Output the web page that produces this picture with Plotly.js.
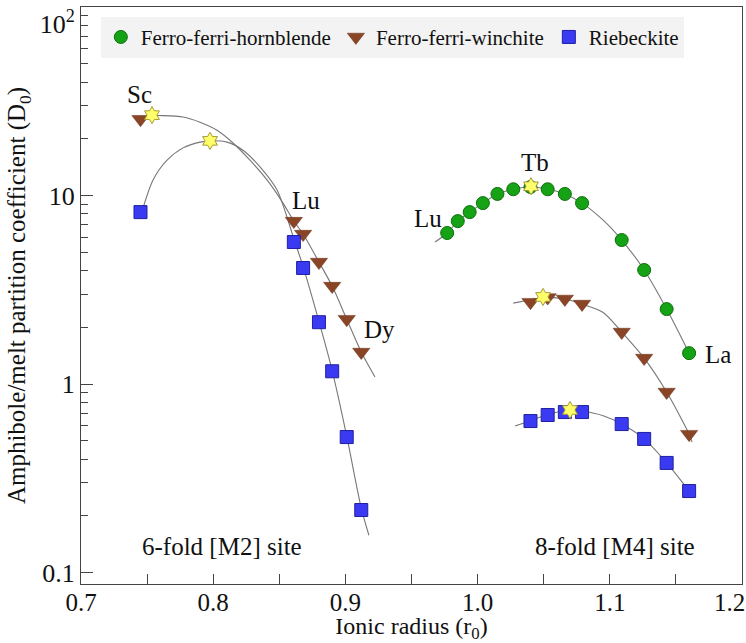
<!DOCTYPE html>
<html>
<head>
<meta charset="utf-8">
<script src="https://cdn.plot.ly/plotly-3.0.1.min.js"></script>
<style>html,body{margin:0;padding:0;background:#fff;}#chart{width:746px;height:643px;}</style>
</head>
<body>
<div id="chart"></div>
<script>
// ---- data ----
const mineralNames = ['Ferro-ferri-hornblende', 'Ferro-ferri-winchite', 'Riebeckite'];

// 8-fold [M4] site, hornblende (Lu ... La)
const hbM4R = [0.977, 0.985, 0.994, 1.004, 1.015, 1.027, 1.040, 1.053, 1.066, 1.079, 1.109, 1.126, 1.143, 1.160];
const hbM4D = [6.33, 7.32, 8.17, 9.12, 10.2, 10.8, 11.1, 10.8, 10.2, 9.12, 5.81, 4.03, 2.50, 1.46];

// winchite
const wiM2R = [0.745, 0.861, 0.868, 0.880, 0.890, 0.901, 0.912];
const wiM2D = [25.4, 7.32, 6.25, 4.44, 3.31, 2.21, 1.48];
const wiM4R = [1.040, 1.053, 1.066, 1.079, 1.109, 1.126, 1.143, 1.160];
const wiM4D = [2.72, 2.88, 2.83, 2.66, 1.89, 1.375, 0.908, 0.543];

// riebeckite
const riM2R = [0.745, 0.861, 0.868, 0.880, 0.890, 0.901, 0.912];
const riM2D = [8.17, 5.67, 4.13, 2.13, 1.17, 0.524, 0.215];
const riM4R = [1.040, 1.053, 1.066, 1.079, 1.109, 1.126, 1.143, 1.160];
const riM4D = [0.637, 0.686, 0.711, 0.711, 0.614, 0.512, 0.382, 0.271];

// fitted r0 / D0 (stars)
const starR = [0.7537, 0.7976, 1.0404, 1.0495, 1.0699];
const starD = [26.7, 19.5, 11.2, 2.90, 0.729];

// lattice-strain fit curves
const cWiM2R = [0.7537, 0.7582, 0.7772, 0.7900, 0.8029, 0.8150, 0.8278, 0.8407, 0.8528, 0.861, 0.868, 0.880, 0.890, 0.901, 0.912, 0.9224];
const cWiM2D = [26.7, 26.6, 26.1, 24.5, 22.2, 19.0, 15.4, 12.1, 9.12, 7.32, 6.25, 4.44, 3.31, 2.21, 1.48, 1.09];
const cRiM2R = [0.7465, 0.7545, 0.7651, 0.7772, 0.7900, 0.7976, 0.8104, 0.8225, 0.8354, 0.8483, 0.861, 0.868, 0.880, 0.890, 0.901, 0.912, 0.9178];
const cRiM2D = [8.4, 12.1, 15.4, 17.9, 19.2, 19.5, 19.2, 17.4, 14.2, 10.7, 5.9, 4.2, 2.15, 1.18, 0.53, 0.22, 0.158];
const cHbM4R = [0.9678, 0.977, 0.985, 0.994, 1.004, 1.015, 1.027, 1.040, 1.053, 1.066, 1.079, 1.095, 1.109, 1.126, 1.143, 1.160];
const cHbM4D = [5.67, 6.33, 7.32, 8.17, 9.12, 10.2, 10.8, 11.1, 10.8, 10.2, 9.12, 7.4, 5.81, 4.03, 2.50, 1.46];
const cWiM4R = [1.027, 1.040, 1.050, 1.066, 1.079, 1.095, 1.109, 1.126, 1.143, 1.160, 1.1622];
const cWiM4D = [2.69, 2.80, 2.88, 2.83, 2.66, 2.40, 1.89, 1.375, 0.908, 0.543, 0.493];
const cRiM4R = [1.0283, 1.040, 1.053, 1.070, 1.079, 1.095, 1.109, 1.126, 1.143, 1.160];
const cRiM4D = [0.599, 0.64, 0.69, 0.729, 0.72, 0.68, 0.614, 0.512, 0.382, 0.271];

// labels
const elemLabels = ['Sc', 'Lu', 'Dy', 'Lu', 'Tb', 'La'];
const elemLabelR = [0.7446, 0.870, 0.926, 0.9625, 1.0434, 1.1818];
const elemLabelD = [34.5, 9.46, 1.94, 7.60, 14.9, 1.43];
const siteLabels = ['6-fold [M2] site', '8-fold [M4] site'];
const siteLabelR = [0.8067, 1.104];
const siteLabelD = [0.137, 0.137];

const xTickVals = [0.7, 0.8, 0.9, 1.0, 1.1, 1.2];
const xTickText = ['0.7', '0.8', '0.9', '1.0', '1.1', '1.2&nbsp;&nbsp;&nbsp;&nbsp;'];
const yTickVals = [0.1, 1, 10, 100];
const yTickText = ['0.1', '1', '10', '&nbsp;<br>10<sup>2</sup>'];

// ---- drawing ----
const FONT = '"Liberation Serif", "Times New Roman", serif';
const curveStyle = {color: '#777', width: 1.1, shape: 'spline', smoothing: 0.8};
const colGreen = '#15a315', colBrown = '#8a4526', colBlue = '#3a3af2';

function curve(x, y) {
  return {x: x, y: y, type: 'scatter', mode: 'lines', line: curveStyle, showlegend: false, hoverinfo: 'skip'};
}
const gap = (a, b) => a.concat([null], b);

const traces = [
  curve(cWiM2R, cWiM2D), curve(cRiM2R, cRiM2D),
  curve(cHbM4R, cHbM4D), curve(cWiM4R, cWiM4D), curve(cRiM4R, cRiM4D),
  {x: hbM4R, y: hbM4D, type: 'scatter', mode: 'markers', name: mineralNames[0],
   marker: {symbol: 'circle', size: 13, color: colGreen, line: {color: '#0c6e0c', width: 1}}},
  {x: gap(wiM2R, wiM4R), y: gap(wiM2D, wiM4D), type: 'scatter', mode: 'markers', name: mineralNames[1],
   marker: {symbol: 'triangle-down', size: 15, color: colBrown, line: {color: '#6a3118', width: 0.5}}},
  {x: gap(riM2R, riM4R), y: gap(riM2D, riM4D), type: 'scatter', mode: 'markers', name: mineralNames[2],
   marker: {symbol: 'square', size: 13, color: colBlue, line: {color: '#2020a0', width: 1}}},
  {x: starR, y: starD, type: 'scatter', mode: 'markers', showlegend: false,
   marker: {symbol: 'hexagram', size: 13, color: '#ffff6a', line: {color: '#a89a3a', width: 1}}}
];

const annotations = [];
elemLabels.forEach((t, i) => annotations.push({x: elemLabelR[i], y: Math.log10(elemLabelD[i]), xref: 'x', yref: 'y',
  text: t, showarrow: false, font: {family: FONT, size: 25, color: '#111'}}));
siteLabels.forEach((t, i) => annotations.push({x: siteLabelR[i], y: Math.log10(siteLabelD[i]), xref: 'x', yref: 'y',
  text: t, showarrow: false, font: {family: FONT, size: 25, color: '#111'}}));

const yMinor = [];
[0.1, 1, 10].forEach(b => { for (let k = 2; k <= 9; k++) yMinor.push(+(b * k).toPrecision(3)); });

const layout = {
  width: 746, height: 643,
  margin: {l: 81, r: 4, t: 7, b: 59, pad: 0},
  paper_bgcolor: '#fff', plot_bgcolor: '#fff',
  font: {family: FONT, size: 25, color: '#111'},
  showlegend: true,
  legend: {orientation: 'h', x: 0.03, y: 0.983, xanchor: 'left', yanchor: 'top',
    bgcolor: '#f3f3f3', borderwidth: 0, font: {family: FONT, size: 21, color: '#111'},
    itemwidth: 30, tracegroupgap: 0},
  xaxis: {
    range: [0.7, 1.2], tickmode: 'array', tickvals: xTickVals, ticktext: xTickText,
    ticks: 'inside', ticklen: 10, tickcolor: '#444', tickwidth: 1,
    showline: true, linecolor: '#444', linewidth: 1, mirror: true,
    showgrid: false, zeroline: false, ticklabeloverflow: 'allow', ticklabelstandoff: -4,
    tickfont: {family: FONT, size: 25, color: '#111'},
    minor: {ticks: 'inside', ticklen: 10, tickcolor: '#444', dtick: 0.05, tick0: 0.75, showgrid: false},
    title: {text: 'Ionic radius (r<sub>0</sub>)', font: {family: FONT, size: 24, color: '#111'}, standoff: 5}
  },
  yaxis: {
    type: 'log', range: [-1.06, 2.0], tickmode: 'array', tickvals: yTickVals, ticktext: yTickText,
    ticks: 'inside', ticklen: 12, tickcolor: '#444', tickwidth: 1,
    showline: true, linecolor: '#444', linewidth: 1, mirror: true,
    showgrid: false, zeroline: false, ticklabeloverflow: 'allow',
    tickfont: {family: FONT, size: 26, color: '#111'},
    minor: {ticks: 'inside', ticklen: 7, tickcolor: '#444', tickmode: 'array', tickvals: yMinor, showgrid: false},
    title: {text: 'Amphibole/melt partition coefficient (D<sub>0</sub>)', font: {family: FONT, size: 25, color: '#111'}, standoff: 6}
  },
  annotations: annotations
};

Plotly.newPlot('chart', traces, layout, {displayModeBar: false, staticPlot: true});
</script>
</body>
</html>
